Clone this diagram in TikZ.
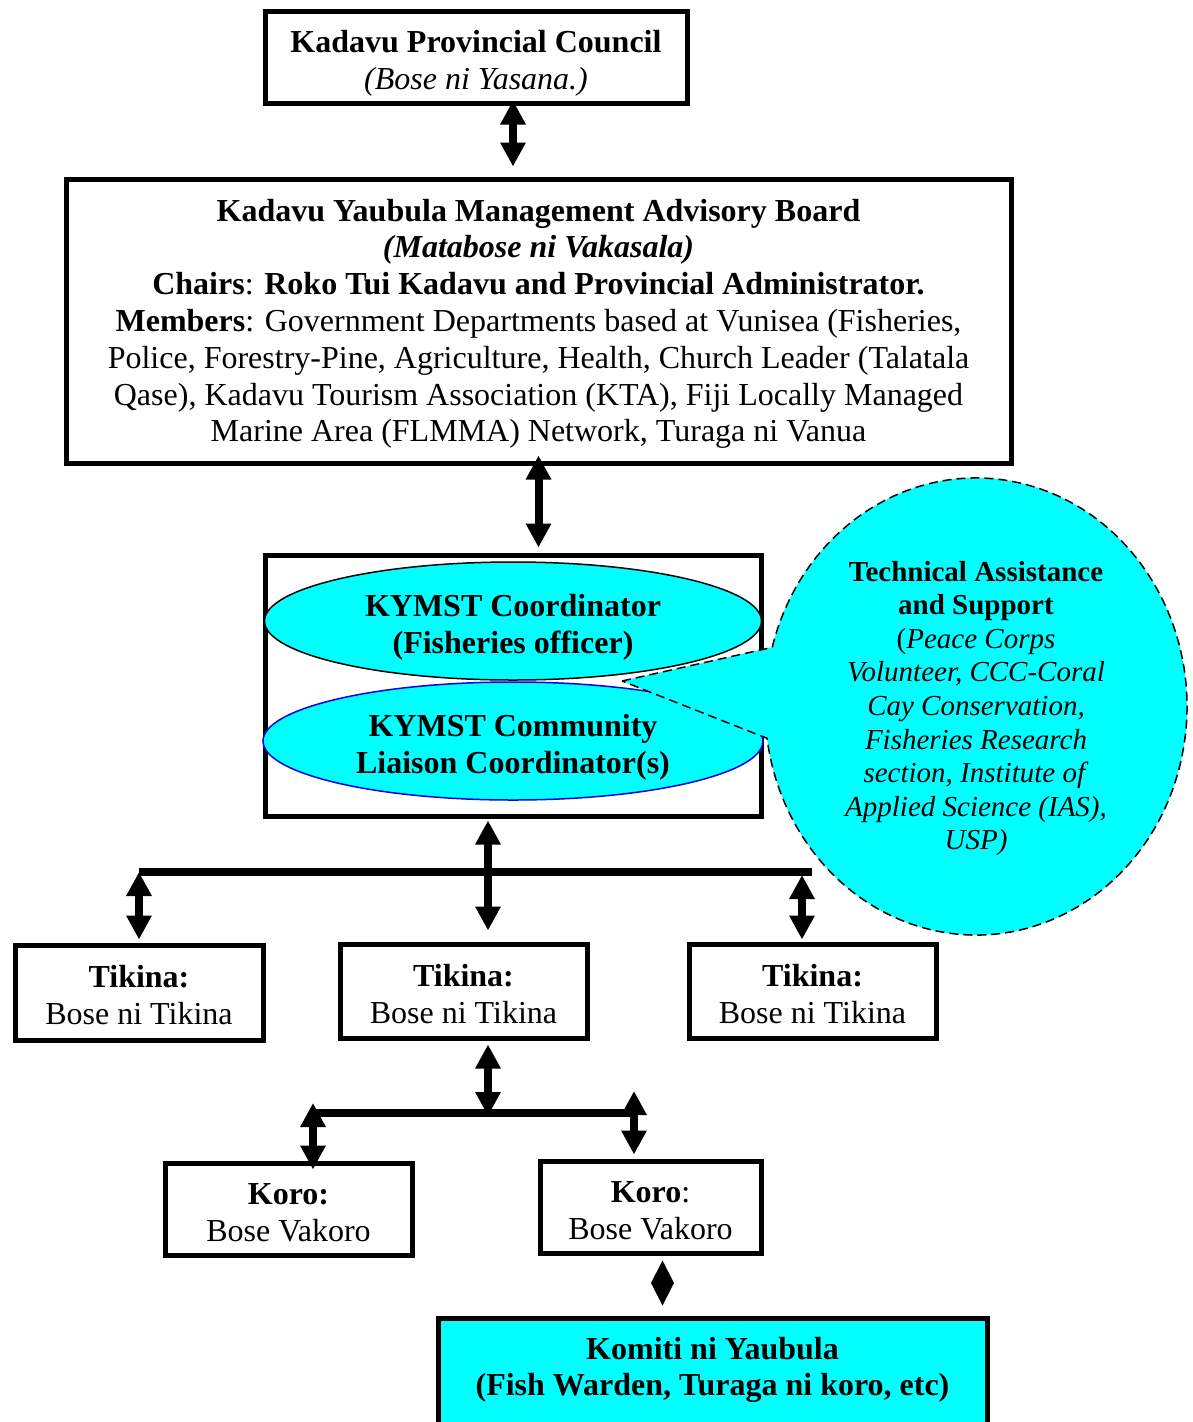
\documentclass[tikz,border=0pt]{standalone}
\usepackage{fontspec}
\setmainfont{Liberation Serif}
\usetikzlibrary{arrows.meta,shapes.geometric,calc}
\definecolor{aqua}{RGB}{0,255,255}
\definecolor{ellblue}{RGB}{0,0,230}
\newcommand\lift[1]{\rule{0pt}{#1}}
\tikzset{
  x=1pt,y=1pt,
  mainfont/.style={font=\fontsize{32}{36.8}\selectfont},
  smallfont/.style={font=\fontsize{29}{33.6}\selectfont},
  box/.style={draw=black,line width=5pt,rectangle,inner sep=0pt,align=center,mainfont},
  ell/.style={ellipse,fill=aqua,line width=1.5pt,inner sep=0pt,align=center,mainfont},
  dbl/.style={line width=8pt,{Triangle[width=24pt,length=24pt]}-{Triangle[width=24pt,length=24pt]}},
  bar/.style={line width=8pt},
}
\begin{document}
\begin{tikzpicture}
\useasboundingbox (0,0) rectangle (1192,-1422);

% top box
\node[box,minimum width=422,minimum height=92] (council) at (476,-57)
  {\lift{35pt}\textbf{Kadavu Provincial Council}\\\textit{(Bose ni Yasana.)}};

% advisory board
\node[box,minimum width=945,minimum height=284] (board) at (538.5,-321)
  {\lift{28pt}\textbf{Kadavu Yaubula Management Advisory Board}\\
   \textbf{\textit{(Matabose ni Vakasala)}}\\
   \textbf{Chairs}: \textbf{Roko Tui Kadavu and Provincial Administrator.}\\
   \textbf{Members}: Government Departments based at Vunisea (Fisheries,\\
   Police, Forestry-Pine, Agriculture, Health, Church Leader (Talatala\\
   Qase), Kadavu Tourism Association (KTA), Fiji Locally Managed\\
   Marine Area (FLMMA) Network, Turaga ni Vanua};

% middle box with ellipses
\node[box,minimum width=496,minimum height=261] (mid) at (513,-685.5) {};
\node[ell,draw=black,minimum width=497,minimum height=118] (coord) at (513,-621)
  {\lift{34pt}\textbf{KYMST Coordinator}\\\textbf{(Fisheries officer)}};
\node[ell,draw=ellblue,minimum width=500,minimum height=118] (liaison) at (513,-741)
  {\lift{34pt}\textbf{KYMST Community}\\\textbf{Liaison Coordinator(s)}};

% callout
\coordinate (tacen) at (976,-706.5);
\coordinate (tatip) at (622,-681);
\draw[fill=aqua,line width=1.5pt,dash pattern=on 9pt off 5pt]
  (tatip) -- ($(tacen)+(165:211 and 228.5)$)
  arc[start angle=165,end angle=-172,x radius=211,y radius=228.5] -- cycle;
\node[smallfont,align=center,inner sep=0pt] (tech) at (976,-708.5)
  {\textbf{Technical Assistance}\\\textbf{and Support}\\
   (\textit{Peace Corps}\\\textit{Volunteer, CCC-Coral}\\\textit{Cay Conservation,}\\
   \textit{Fisheries Research}\\\textit{section, Institute of}\\
   \textit{Applied Science (IAS),}\\\textit{USP)}};

% tikina boxes
\node[box,minimum width=248,minimum height=95] (tikL) at (139,-992.5)
  {\lift{28pt}\textbf{Tikina:}\\Bose ni Tikina};
\node[box,minimum width=247,minimum height=94] (tikM) at (463.5,-991)
  {\lift{28pt}\textbf{Tikina:}\\Bose ni Tikina};
\node[box,minimum width=247,minimum height=94] (tikR) at (812.5,-991)
  {\lift{28pt}\textbf{Tikina:}\\Bose ni Tikina};

% koro boxes
\node[box,minimum width=247,minimum height=92] (koroL) at (288.5,-1209)
  {\lift{28.5pt}\textbf{Koro:}\\Bose Vakoro};
\node[box,minimum width=221,minimum height=92] (koroR) at (650.5,-1207)
  {\lift{28.5pt}\textbf{Koro}:\\Bose Vakoro};

% komiti box
\node[box,fill=aqua,anchor=north,minimum width=549,minimum height=140] (komiti) at (712.5,-1316) {};
\node[mainfont,align=center,inner sep=0pt] (komititext) at (712.5,-1370)
  {\textbf{Komiti ni Yaubula}\\\textbf{(Fish Warden, Turaga ni koro, etc)}};

% connectors
\draw[dbl] ([xshift=37pt,yshift=5pt]council.south) -- ([xshift=-25.5pt,yshift=10pt]board.north);
\draw[dbl] ([yshift=10pt]board.south) -- ([xshift=25.5pt,yshift=5pt]mid.north);

\coordinate (barL) at (139,-872);
\coordinate (barR) at (812,-872);
\draw[bar] (barL) -- (barR);
\draw[dbl] ([xshift=-25pt,yshift=-2pt]mid.south) -- ([xshift=24.5pt,yshift=11pt]tikM.north);
\draw[dbl] (barL) -- ([yshift=3pt]tikL.north);
\draw[dbl] ($(barR)+(-10,-3)$) -- ([xshift=-10.5pt,yshift=2pt]tikR.north);

\coordinate (bar2L) at (313,-1113);
\coordinate (bar2R) at (634,-1113);
\draw[bar] (bar2L) -- (bar2R);
\draw[dbl] ([xshift=24.5pt,yshift=-4pt]tikM.south) -- ([xshift=24.5pt,yshift=-3pt]tikM.south |- bar2L);
\draw[dbl] ($(bar2L)+(0,10)$) -- ([xshift=24.5pt,yshift=-9pt]koroL.north);
\draw[dbl] ($(bar2R)+(0,22)$) -- ([xshift=-16.5pt,yshift=4pt]koroR.north);

% diamond connector
\fill ([xshift=12pt,yshift=-5pt]koroR.south) -- ++(11.5,-22.5) -- ++(-11.5,-22.5) -- ++(-11.5,22.5) -- cycle;
\end{tikzpicture}
\end{document}
